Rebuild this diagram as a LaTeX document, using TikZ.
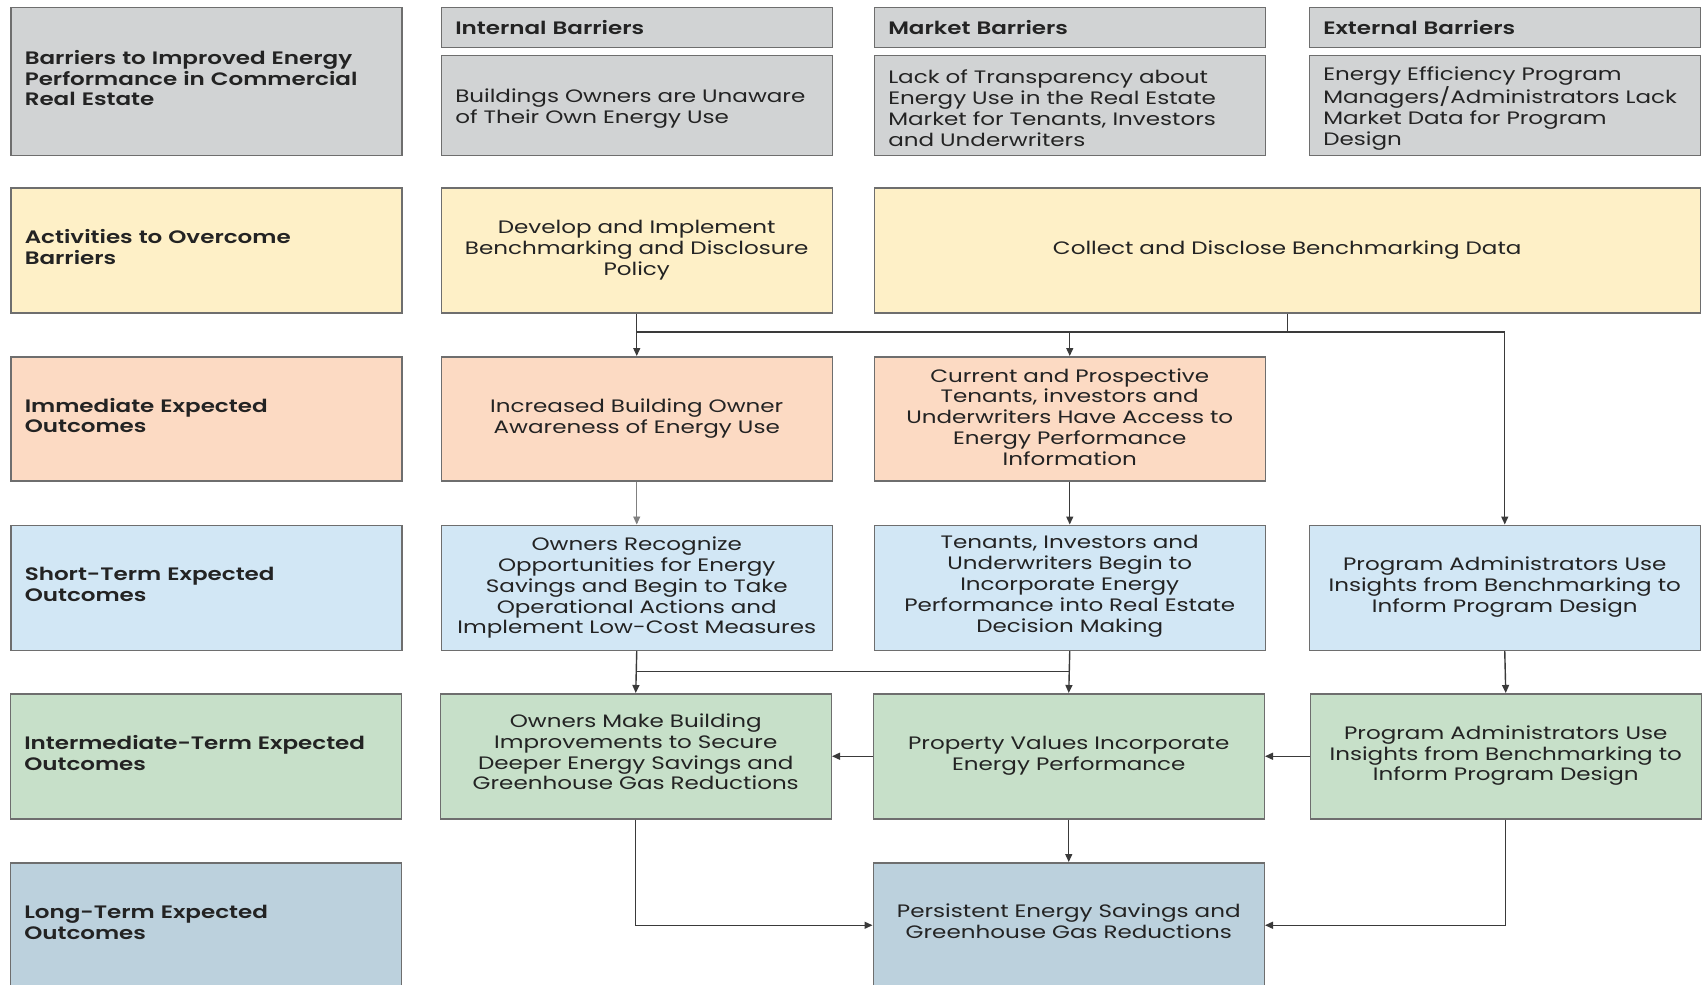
\documentclass[tikz,border=0pt]{standalone}
\usepackage{fontspec}
\setmainfont[FakeStretch=1.28,BoldFont={Poppins SemiBold}]{Poppins}
\usetikzlibrary{arrows.meta}
\definecolor{cgray}{HTML}{D1D3D4}
\definecolor{cyel}{HTML}{FEF0C7}
\definecolor{corg}{HTML}{FCDAC3}
\definecolor{cblu}{HTML}{D2E7F5}
\definecolor{cgrn}{HTML}{C7E0C9}
\definecolor{clng}{HTML}{BCD1DD}
\definecolor{cedge}{HTML}{6E6E6E}
\definecolor{cline}{HTML}{3A3A3A}
\definecolor{ctext}{HTML}{232323}
\newcommand\pushdn{\rule{0pt}{20pt}}
\newcommand\pushup[1]{\rule[-#1]{0pt}{0pt}}
\begin{document}
\begin{tikzpicture}[x=1pt,y=-1pt,
  box/.style={draw=cedge, line width=1.5pt, anchor=north west, text=ctext,
    font=\fontsize{18}{20.8}\selectfont},
  lab/.style={box, align=left, text width=363pt, inner xsep=14pt, inner ysep=0pt,
    minimum width=391pt, font=\bfseries\fontsize{18}{20.8}\selectfont},
  hdr/.style={lab, minimum width=391pt, minimum height=40pt},
  body/.style={box, align=left, text width=363pt, inner xsep=14pt, inner ysep=0pt,
    minimum width=391pt, minimum height=100pt},
  cbox/.style={box, align=center, text width=380pt, inner xsep=5.5pt, inner ysep=0pt,
    minimum width=391pt, minimum height=125pt},
  conn/.style={draw=cline, line width=1.4pt, -{Triangle[length=8pt,width=7pt]}},
  ln/.style={draw=cline, line width=1.4pt}]
\useasboundingbox (0,0) rectangle (1706,985);
\fill[white] (0,0) rectangle (1706,985);
\clip (0,0) rectangle (1706,985);
% row 1
\node[lab, fill=cgray, minimum height=148pt] (bar) at (10,6.5) {Barriers to Improved Energy\\Performance in Commercial\\Real Estate\pushup{6.6pt}};
\node[hdr, fill=cgray] (ih) at (440.5,6.5) {Internal Barriers};
\node[body, fill=cgray] (ib) at (440.5,54.5) {\pushdn Buildings Owners are Unaware\\of Their Own Energy Use};
\node[hdr, fill=cgray] (mh) at (873.5,6.5) {Market Barriers};
\node[body, fill=cgray] (mb) at (873.5,54.5) {\pushdn Lack of Transparency about\\Energy Use in the Real Estate\\Market for Tenants, Investors\\and Underwriters};
\node[hdr, fill=cgray] (eh) at (1308.5,6.5) {External Barriers};
\node[body, fill=cgray] (eb) at (1308.5,54.5) {\pushdn Energy Efficiency Program\\Managers/Administrators Lack\\Market Data for Program\\Design};
% row 2
\node[lab, fill=cyel, minimum height=125pt] (act) at (10,187) {Activities to Overcome\\Barriers\pushup{6.6pt}};
\node[cbox, fill=cyel] (dev) at (440.5,187) {Develop and Implement\\Benchmarking and Disclosure\\Policy\pushup{2pt}};
\node[cbox, fill=cyel, text width=800pt, inner xsep=13pt] (col) at (873.5,187) {Collect and Disclose Benchmarking Data\pushup{2pt}};
% row 3
\node[lab, fill=corg, minimum height=124pt] (imm) at (10,356) {Immediate Expected\\Outcomes\pushup{6.6pt}};
\node[cbox, fill=corg, minimum height=124pt] (inc) at (440.5,356) {Increased Building Owner\\Awareness of Energy Use};
\node[cbox, fill=corg, minimum height=124pt] (cur) at (873.5,356) {Current and Prospective\\Tenants, investors and\\Underwriters Have Access to\\Energy Performance\\Information\pushup{4pt}};
% row 4
\node[lab, fill=cblu, minimum height=125pt] (sht) at (10,524.5) {Short-Term Expected\\Outcomes\pushup{6.6pt}};
\node[cbox, fill=cblu] (own) at (440.5,524.5) {Owners Recognize\\Opportunities for Energy\\Savings and Begin to Take\\Operational Actions and\\Implement Low-Cost Measures};
\node[cbox, fill=cblu] (ten) at (873.5,524.5) {Tenants, Investors and\\Underwriters Begin to\\Incorporate Energy\\Performance into Real Estate\\Decision Making\pushup{8pt}};
\node[cbox, fill=cblu] (prg) at (1308.5,524.5) {Program Administrators Use\\Insights from Benchmarking to\\Inform Program Design\pushup{6pt}};
% row 5
\node[lab, fill=cgrn, minimum height=125pt] (int) at (9.5,693) {Intermediate-Term Expected\\Outcomes\pushup{6.6pt}};
\node[cbox, fill=cgrn] (omk) at (439.5,693) {Owners Make Building\\Improvements to Secure\\Deeper Energy Savings and\\Greenhouse Gas Reductions\pushup{9pt}};
\node[cbox, fill=cgrn] (pv) at (872.5,693) {Property Values Incorporate\\Energy Performance\pushup{6.5pt}};
\node[cbox, fill=cgrn] (pa) at (1309.5,693) {Program Administrators Use\\Insights from Benchmarking to\\Inform Program Design\pushup{6pt}};
% row 6
\node[lab, fill=clng, minimum height=125pt] (lng) at (9.5,862) {Long-Term Expected\\Outcomes\pushup{6.6pt}};
\node[cbox, fill=clng] (pes) at (872.5,862) {Persistent Energy Savings and\\Greenhouse Gas Reductions\pushup{9pt}};
% connectors
\coordinate (j1) at (0,332);
\coordinate (j2) at (0,671.3);
\draw[ln] (col.south) -- (col.south |- j1);
\draw[ln] (dev.south |- j1) -- (prg.north |- j1);
\draw[conn] (dev.south) -- (inc.north);
\draw[conn] (cur.north |- j1) -- (cur.north);
\draw[conn] (prg.north |- j1) -- (prg.north);
\draw[draw=gray, line width=0.9pt, -{Triangle[length=8pt,width=7pt]}] (inc.south) -- (own.north);
\draw[conn] (cur.south) -- (ten.north);
\draw[ln] (own.south |- j2) -- (ten.south |- j2);
\draw[conn] (own.south) -- (omk.north);
\draw[conn] (ten.south) -- (pv.north);
\draw[conn] (prg.south) -- (pa.north);
\draw[conn] (pv.west) -- (omk.east);
\draw[conn] (pa.west) -- (pv.east);
\draw[conn] (pv.south) -- (pes.north);
\draw[conn] (omk.south) |- (pes.west);
\draw[conn] (pa.south) |- (pes.east);
\end{tikzpicture}
\end{document}
